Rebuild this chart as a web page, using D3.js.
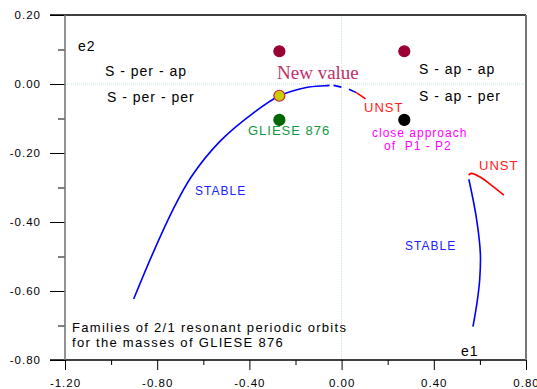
<!DOCTYPE html>
<html>
<head>
<meta charset="utf-8">
<script src="https://cdn.jsdelivr.net/npm/d3@7/dist/d3.min.js"></script>
<style>
  html, body { margin: 0; padding: 0; background: #fff; }
  svg { display: block; }
  text { font-family: "Liberation Sans", Arial, sans-serif; white-space: pre; }
</style>
</head>
<body>
<svg id="chart" width="537" height="389"></svg>
<script>
// Axis ticks
const xTicksMajor = [-1.2, -0.8, -0.4, 0.0, 0.4, 0.8];
const xTicksMinor = [-1.0, -0.6, -0.2, 0.2, 0.6];
const yTicksMajor = [0.2, 0.0, -0.2, -0.4, -0.6, -0.8];
const yTicksMinor = [0.1, -0.1, -0.3, -0.5, -0.7];

// Stable family (left branch), e1 vs e2
const stableLeft = [
  [-0.902, -0.623], [-0.819, -0.491], [-0.732, -0.365], [-0.652, -0.269],
  [-0.529, -0.167], [-0.385, -0.085], [-0.269, -0.034], [-0.153, -0.010],
  [-0.074, -0.005], [-0.052, -0.004]
];
const stableLeftDash = [[-0.035, -0.004], [-0.001, -0.009]];
const stableLeftTail = [[0.032, -0.015], [0.064, -0.025]];
const unstableLeft = [[0.064, -0.025], [0.082, -0.033], [0.104, -0.043]];

// Stable and unstable families (right branch)
const stableRight = [
  [0.552, -0.276], [0.584, -0.385], [0.602, -0.491], [0.599, -0.568],
  [0.587, -0.636], [0.570, -0.703]
];
const unstableRight = [
  [0.551, -0.264], [0.563, -0.259], [0.599, -0.269], [0.649, -0.293], [0.704, -0.322]
];

// Marked configurations
const configPoints = [
  { x: -0.27, y: 0.095, fill: "#990033", stroke: "#990033" },
  { x: 0.272, y: 0.095, fill: "#990033", stroke: "#990033" },
  { x: -0.27, y: -0.034, fill: "#cccc00", stroke: "#bb2244" },
  { x: -0.27, y: -0.104, fill: "#006600", stroke: "#006600" },
  { x: 0.272, y: -0.104, fill: "#000000", stroke: "#000000" }
];

const svg = d3.select("#chart");
const x = d3.scaleLinear().domain([-1.2, 0.8]).range([65, 526]);
const y = d3.scaleLinear().domain([-0.8, 0.2]).range([360, 15]);
const fmt = d => d.toFixed(2);

// zero gridlines
svg.append("line").attr("x1", x(-1.2)).attr("x2", x(0.8)).attr("y1", y(0)).attr("y2", y(0))
  .attr("stroke", "#bfe6cf").attr("stroke-width", 1).attr("stroke-dasharray", "1,1");
svg.append("line").attr("x1", x(0)).attr("x2", x(0)).attr("y1", y(0.2)).attr("y2", y(-0.8))
  .attr("stroke", "#bfe6cf").attr("stroke-width", 1).attr("stroke-dasharray", "1,1");

// Left axis
const yAxis = svg.append("g").attr("transform", `translate(${x(-1.2)},0)`)
  .call(d3.axisLeft(y).tickValues(yTicksMajor).tickFormat(fmt).tickSize(15).tickPadding(9));
const yMinor = svg.append("g").attr("transform", `translate(${x(-1.2)},0)`)
  .call(d3.axisLeft(y).tickValues(yTicksMinor).tickFormat("").tickSize(7));

// Bottom axis
const xAxis = svg.append("g").attr("transform", `translate(0,${y(-0.8)})`)
  .call(d3.axisBottom(x).tickValues(xTicksMajor).tickFormat(fmt).tickSize(10).tickPadding(9));
const xMinor = svg.append("g").attr("transform", `translate(0,${y(-0.8)})`)
  .call(d3.axisBottom(x).tickValues(xTicksMinor).tickFormat("").tickSize(5));

[yAxis, yMinor, xAxis, xMinor].forEach(g => {
  g.select(".domain").remove();
  g.selectAll("line").attr("stroke", "#000").attr("stroke-width", 1);
  g.selectAll("text").attr("font-size", 11.5).attr("fill", "#000")
    .attr("letter-spacing", "1px").style("font-family", "Liberation Sans, Arial, sans-serif");
});

// Frame
svg.append("line").attr("x1", 50).attr("x2", x(0.8)).attr("y1", y(0.2)).attr("y2", y(0.2))
  .attr("stroke", "#000").attr("stroke-width", 1.3);
svg.append("line").attr("x1", 50).attr("x2", x(0.8)).attr("y1", y(-0.8)).attr("y2", y(-0.8))
  .attr("stroke", "#000").attr("stroke-width", 1.3);
svg.append("line").attr("x1", x(-1.2)).attr("x2", x(-1.2)).attr("y1", y(0.2)).attr("y2", y(-0.8))
  .attr("stroke", "#777").attr("stroke-width", 1.6);
svg.append("line").attr("x1", x(0.8)).attr("x2", x(0.8)).attr("y1", y(0.2)).attr("y2", y(-0.8))
  .attr("stroke", "#777").attr("stroke-width", 2);

// Families
const line = d3.line().x(d => x(d[0])).y(d => y(d[1])).curve(d3.curveCatmullRom);
const drawPath = (data, color) =>
  svg.append("path").datum(data).attr("d", line)
    .attr("fill", "none").attr("stroke", color).attr("stroke-width", 1.6);
drawPath(stableLeft, "#0000ff");
drawPath(stableLeftDash, "#0000ff");
drawPath(stableLeftTail, "#0000ff");
drawPath(unstableLeft, "#ff0000");
drawPath(stableRight, "#0000ff");
drawPath(unstableRight, "#ff0000");

// Points
svg.selectAll("circle.cfg").data(configPoints).enter().append("circle")
  .attr("class", "cfg")
  .attr("cx", d => x(d.x)).attr("cy", d => y(d.y)).attr("r", 5.5)
  .attr("fill", d => d.fill).attr("stroke", d => d.stroke).attr("stroke-width", 1.2);

// Labels
const labels = [
  { t: "e2", x: 78, y: 51, c: "#000", s: 14 },
  { t: "S - per - ap", x: 105, y: 76, c: "#000", s: 14 },
  { t: "S - per - per", x: 107, y: 102, c: "#000", s: 14 },
  { t: "S - ap - ap", x: 419, y: 74, c: "#000", s: 14 },
  { t: "S - ap - per", x: 419, y: 101, c: "#000", s: 14 },
  { t: "UNST", x: 364, y: 112, c: "#ff2020", s: 13 },
  { t: "GLIESE 876", x: 248, y: 135, c: "#119944", s: 13 },
  { t: "close approach", x: 372, y: 137, c: "#ff00ff", s: 12 },
  { t: "of  P1 - P2", x: 384, y: 150, c: "#ff00ff", s: 12 },
  { t: "UNST", x: 479, y: 170, c: "#ff2020", s: 13 },
  { t: "STABLE", x: 195, y: 195, c: "#2020ff", s: 12 },
  { t: "STABLE", x: 405, y: 250, c: "#2020ff", s: 12 },
  { t: "Families of 2/1 resonant periodic orbits", x: 72, y: 332, c: "#000", s: 13, ls: 1.3 },
  { t: "for the masses of GLIESE 876", x: 72, y: 347, c: "#000", s: 13, ls: 1.3 },
  { t: "e1", x: 461, y: 356, c: "#000", s: 14 }
];
svg.selectAll("text.lbl").data(labels).enter().append("text")
  .attr("class", "lbl")
  .attr("x", d => d.x).attr("y", d => d.y)
  .attr("fill", d => d.c).attr("font-size", d => d.s)
  .attr("letter-spacing", d => (d.ls || 1) + "px")
  .text(d => d.t);

svg.append("text").attr("x", 277).attr("y", 79)
  .attr("fill", "#c0306a").attr("font-size", 19)
  .style("font-family", "Liberation Serif, Times New Roman, serif")
  .text("New value");
</script>
</body>
</html>
